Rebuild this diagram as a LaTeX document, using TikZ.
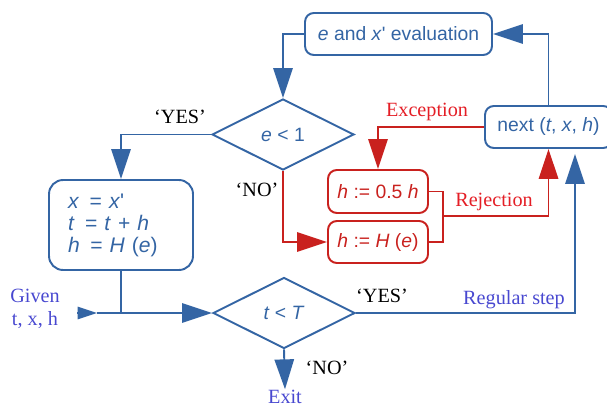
\documentclass[tikz,border=0pt]{standalone}
\usepackage{fontspec}
\setmainfont{Liberation Sans}
\newfontfamily\labelfont[Ligatures=TeX]{Liberation Serif}
\usetikzlibrary{shapes.geometric,arrows.meta}
\definecolor{flowblue}{RGB}{52,101,164}
\definecolor{flowred}{RGB}{201,33,30}
\definecolor{labelred}{RGB}{228,30,38}
\definecolor{labelblue}{RGB}{72,72,208}

\begin{document}
\begin{tikzpicture}[x=0.02cm, y=-0.02cm, line width=1.1pt,
    box/.style={draw, rounded corners=5pt, inner sep=0pt, font=\fontsize{11}{12.5}\selectfont},
    decision/.style={draw, diamond, inner sep=0pt, minimum width=2.84cm, minimum height=1.42cm, font=\fontsize{11}{12.5}\selectfont},
    tip/.style={-{Triangle[length=17pt,width=11pt]}},
    lbl/.style={font=\labelfont\fontsize{11.5}{13}\selectfont}]
        \useasboundingbox (0,0) rectangle (607,408);
        % Blue part of the chart
        \begin{scope}[flowblue]
        \node[box, minimum width=3.74cm, minimum height=0.84cm] (eval) at (398.5,34) {\textit{e} and \textit{x}\textquotesingle\ evaluation};
        \node[box, minimum width=2.54cm, minimum height=0.84cm] (next) at (548.5,127) {next (\textit{t}, \textit{x}, \textit{h})};
        \node[decision] (small) at (283,134.5) {\textit{e} < 1};
        \node[box, rounded corners=8pt, minimum width=2.88cm, minimum height=1.8cm, text width=2.12cm, align=left,
              font=\fontsize{12}{12.5}\selectfont] (accept) at (121,225)
        {\textit{x}\enspace = \textit{x}\textquotesingle\\ \textit{t}\enspace = \textit{t} + \textit{h}\\ \textit{h}\enspace = \textit{H} (\textit{e})};
        \node[decision] (done) at (284,313) {\textit{t} < \textit{T}};
        \coordinate (given) at (77,313);
        \coordinate (gtip) at (97,313);
        \coordinate (regular) at (575,154);
        \node[lbl, labelblue, inner sep=0pt] (exit) at (285,397) {Exit};
        % Connectors
        \draw[tip] (next.north) |- (eval.east);
        \draw[tip] (eval.west) -| (small.north);
        \draw[tip] (small.west) -| (accept.north);
        \draw (accept.south) -- (accept.south |- done.west);
        \draw[-{Triangle[length=11pt,width=7pt]}] (given) -- (gtip);
        \draw[tip] (gtip) -- (done.west);
        \draw[tip] (done.east) -| (regular);
        \draw[tip] (done.south) -- (exit.north);
        \end{scope}
        % Red part of the chart
        \begin{scope}[flowred]
        \node[box, minimum width=2cm, minimum height=0.86cm] (half) at (378,191.5) {\textit{h} := 0.5 \textit{h}};
        \node[box, minimum width=2cm, minimum height=0.84cm] (newh) at (378,242) {\textit{h} := \textit{H} (\textit{e})};
        \coordinate (reject) at (443,216);
        \draw[tip] (small.south) |- (newh.west);
        \draw[tip] (next.west) -| (half.north);
        \draw (half.east) -| (reject) |- (newh.east);
        \draw[tip] (reject) -| (next.south);
        \end{scope}
        % Labels
        \node[lbl] at (180,117) {‘YES’};
        \node[lbl] at (257,190) {‘NO’};
        \node[lbl] at (382,296) {‘YES’};
        \node[lbl] at (327,368) {‘NO’};
        \node[lbl, labelred] at (427,112) {Exception};
        \node[lbl, labelred] at (494,202) {Rejection};
        \node[lbl, labelblue] at (514,300) {Regular step};
        \node[lbl, labelblue, align=center] at (35,309) {Given\\t, x, h};
    \end{tikzpicture}
\end{document}
